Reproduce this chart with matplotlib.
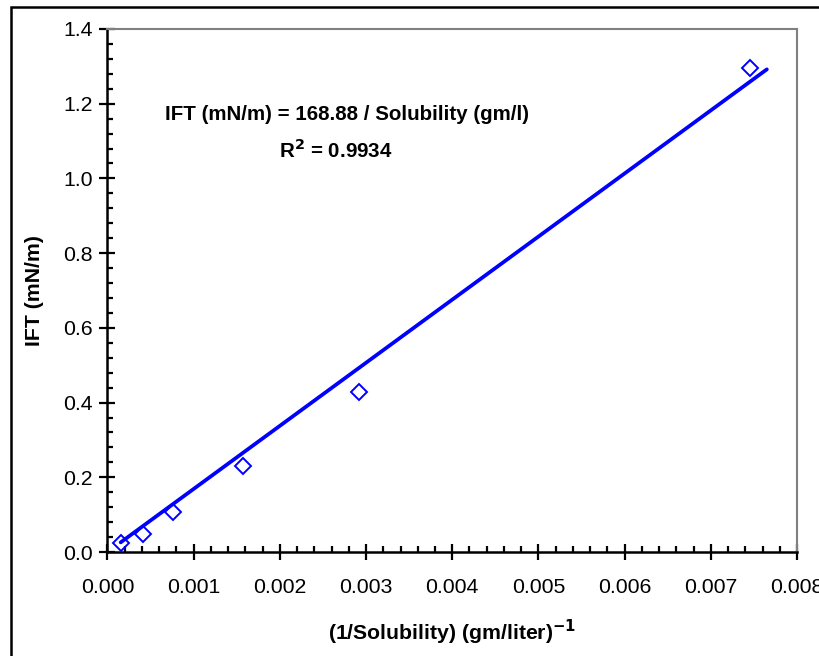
import matplotlib
matplotlib.use("Agg")
import matplotlib.pyplot as plt
from matplotlib.patches import Rectangle
from matplotlib.ticker import MultipleLocator, FormatStrFormatter

plt.rcParams['font.family'] = ['Liberation Sans', 'DejaVu Sans']

# measured points: 1/solubility (l/gm) vs IFT (mN/m)
inv_solubility = [0.000153, 0.000408, 0.000763, 0.001575, 0.002914, 0.007454]
ift = [0.023, 0.048, 0.108, 0.230, 0.427, 1.295]

# fitted line IFT = 168.88 / solubility
slope = 168.88
fit_x = [0.000153, 0.00765]
fit_y = [slope * v for v in fit_x]

fig = plt.figure(figsize=(8.2, 6.56), dpi=100)
# outer chart border (cut off on the right and bottom, like the original)
fig.patches.append(Rectangle((11 / 820, -0.1), 1.2, 1 - 7 / 656 + 0.1,
                             transform=fig.transFigure, fill=False,
                             edgecolor='black', linewidth=1.8))

ax = fig.add_axes([107.5 / 820, 1 - 552 / 656, (797 - 107.5) / 820, (552 - 29) / 656])

ax.plot(fit_x, fit_y, color='#0000FF', linewidth=2.7, solid_capstyle='round', zorder=2)
ax.plot(inv_solubility, ift, linestyle='none', marker='D', markersize=8.3,
        markerfacecolor='none', markeredgecolor='#0000FF', markeredgewidth=1.4,
        clip_on=False, zorder=3)

ax.set_xlim(0, 0.008)
ax.set_ylim(0, 1.4)
ax.xaxis.set_major_locator(MultipleLocator(0.001))
ax.xaxis.set_minor_locator(MultipleLocator(0.0002))
ax.yaxis.set_major_locator(MultipleLocator(0.2))
ax.yaxis.set_minor_locator(MultipleLocator(0.04))
ax.xaxis.set_major_formatter(FormatStrFormatter('%.3f'))
ax.yaxis.set_major_formatter(FormatStrFormatter('%.1f'))

ax.tick_params(which='major', direction='inout', length=11, width=1.6,
               labelsize=15.3)
ax.tick_params(which='minor', direction='in', length=4.5, width=1.6)
ax.tick_params(axis='x', which='major', pad=13)
ax.tick_params(axis='y', which='major', pad=5)

for side in ['left', 'bottom']:
    ax.spines[side].set_linewidth(1.8)
    ax.spines[side].set_color('black')
for side in ['top', 'right']:
    ax.spines[side].set_linewidth(1.5)
    ax.spines[side].set_color('#808080')

ax.set_xlabel(r'(1/Solubility) (gm/liter)$^{\mathbf{-1}}$', fontsize=15.3,
              fontweight='bold', labelpad=15)
ax.set_ylabel('IFT (mN/m)', fontsize=15.3, fontweight='bold', labelpad=14)

ax.text(0.00278, 1.17, 'IFT (mN/m) = 168.88 / Solubility (gm/l)', ha='center',
        va='center', fontsize=14.8, fontweight='bold')
ax.text(0.00265, 1.076, r'R$^{\mathbf{2}}$ = 0.9934', ha='center', va='center',
        fontsize=14.8, fontweight='bold')

fig.savefig('out.png', dpi=100)
